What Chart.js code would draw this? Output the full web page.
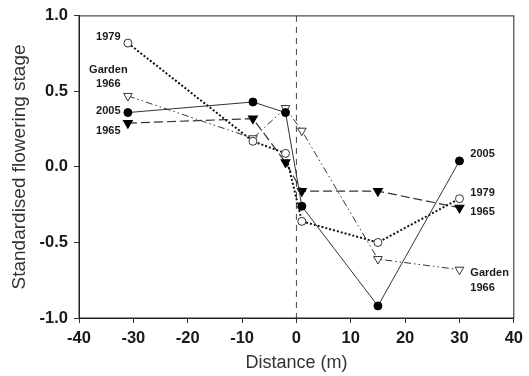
<!DOCTYPE html>
<html>
<head>
<meta charset="utf-8">
<script src="https://cdn.jsdelivr.net/npm/chart.js@4.4.0/dist/chart.umd.min.js"></script>
<style>
  html, body { margin: 0; padding: 0; background: #fff; }
  #wrap { width: 529px; height: 376px; position: relative; }
</style>
</head>
<body>
<div id="wrap"><canvas id="chart"></canvas></div>
<script>
// Distance from the boundary (m)
const distances = [-31, -8, -2, 1, 15, 30]

// Standardised flowering stage per survey
const stage2005 = [0.36, 0.43, 0.36, -0.26, -0.92, 0.04]
const stage1979 = [0.82, 0.17, 0.09, -0.36, -0.50, -0.21]
const stage1965 = [0.29, 0.32, 0.03, -0.16, -0.16, -0.27]
const stageGarden1966 = [0.47, 0.19, 0.39, 0.24, -0.61, -0.68]

// Series labels written next to the line ends (data coords)
const leftLabels = ["1979", "Garden", "1966", "2005", "1965"]
const leftLabelY = [0.86, 0.64, 0.55, 0.37, 0.24]
const rightLabels = ["2005", "1979", "1965", "Garden", "1966"]
const rightLabelY = [0.085, -0.17, -0.295, -0.70, -0.80]

const toPoints = (ys) => distances.map((x, i) => ({ x: x, y: ys[i] }))

const INK = "#1a1a1a"
const LINE = "#333"

// Frame, zero line and series labels
const decorations = {
  id: "decorations",
  beforeDatasetsDraw(chart) {
    const { ctx, chartArea, scales } = chart
    const x0 = scales.x.getPixelForValue(0)
    ctx.save()
    ctx.strokeStyle = "#444"
    ctx.lineWidth = 1
    ctx.setLineDash([6, 5])
    ctx.beginPath()
    ctx.moveTo(x0, chartArea.top)
    ctx.lineTo(x0, chartArea.bottom)
    ctx.stroke()
    ctx.restore()
  },
  afterDatasetsDraw(chart) {
    const { ctx, chartArea, scales } = chart
    ctx.save()
    ctx.strokeStyle = "#222"
    ctx.lineWidth = 1
    ctx.strokeRect(chartArea.left, chartArea.top, chartArea.right - chartArea.left, chartArea.bottom - chartArea.top)

    ctx.fillStyle = INK
    ctx.font = "bold 11px 'Liberation Sans', Arial, sans-serif"
    ctx.textBaseline = "middle"
    ctx.textAlign = "center"
    leftLabels.forEach((t, i) => {
      ctx.fillText(t, scales.x.getPixelForValue(-34.6), scales.y.getPixelForValue(leftLabelY[i]))
    })
    ctx.textAlign = "left"
    rightLabels.forEach((t, i) => {
      ctx.fillText(t, scales.x.getPixelForValue(32), scales.y.getPixelForValue(rightLabelY[i]))
    })
    ctx.restore()
  },
}

const tickFont = { family: "'Liberation Sans', Arial, sans-serif", size: 16.5, weight: "bold" }

new Chart(document.getElementById("chart"), {
  type: "scatter",
  data: {
    datasets: [
      {
        label: "2005",
        data: toPoints(stage2005),
        showLine: true,
        borderColor: LINE,
        borderWidth: 1,
        pointStyle: "circle",
        pointRadius: 4,
        pointBackgroundColor: "#000",
        pointBorderColor: "#000",
      },
      {
        label: "1979",
        data: toPoints(stage1979),
        showLine: true,
        borderColor: "#111",
        borderWidth: 2,
        borderDash: [2, 2],
        pointStyle: "circle",
        pointRadius: 4,
        pointBorderWidth: 1,
        pointBackgroundColor: "#fff",
        pointBorderColor: "#333",
      },
      {
        label: "1965",
        data: toPoints(stage1965),
        showLine: true,
        borderColor: LINE,
        borderWidth: 1.2,
        borderDash: [9, 4],
        pointStyle: "triangle",
        pointRotation: 180,
        pointRadius: 5,
        pointBackgroundColor: "#000",
        pointBorderColor: "#000",
      },
      {
        label: "Garden 1966",
        data: toPoints(stageGarden1966),
        showLine: true,
        borderColor: LINE,
        borderWidth: 1,
        borderDash: [7, 3, 1.5, 3, 1.5, 3],
        pointStyle: "triangle",
        pointRotation: 180,
        pointRadius: 5,
        pointBorderWidth: 1,
        pointBackgroundColor: "#fff",
        pointBorderColor: "#333",
      },
    ],
  },
  options: {
    responsive: true,
    maintainAspectRatio: false,
    animation: false,
    layout: { padding: { left: 0, right: 13, top: 12, bottom: 0 } },
    plugins: {
      legend: { display: false },
      tooltip: { enabled: false },
    },
    scales: {
      x: {
        type: "linear",
        min: -40,
        max: 40,
        afterFit: (s) => { s.height = 58 },
        ticks: { stepSize: 10, color: INK, font: tickFont, padding: 6 },
        grid: { drawOnChartArea: false, drawTicks: true, tickLength: 5, tickColor: "#333" },
        border: { color: "#222" },
        title: {
          display: true,
          text: "Distance (m)",
          color: "#333",
          font: { family: "'Liberation Sans', Arial, sans-serif", size: 18 },
          padding: { top: 0, bottom: 2 },
        },
      },
      y: {
        min: -1,
        max: 1,
        afterFit: (s) => { s.width = 79 },
        ticks: {
          stepSize: 0.5,
          color: INK,
          font: tickFont,
          padding: 6,
          callback: (v) => v.toFixed(1),
        },
        grid: { drawOnChartArea: false, drawTicks: true, tickLength: 5, tickColor: "#333" },
        border: { color: "#222" },
        title: {
          display: true,
          text: "Standardised flowering stage",
          color: "#333",
          font: { family: "'Liberation Sans', Arial, sans-serif", size: 19 },
          padding: { top: 8, bottom: 0 },
        },
      },
    },
  },
  plugins: [decorations],
})
</script>
</body>
</html>
